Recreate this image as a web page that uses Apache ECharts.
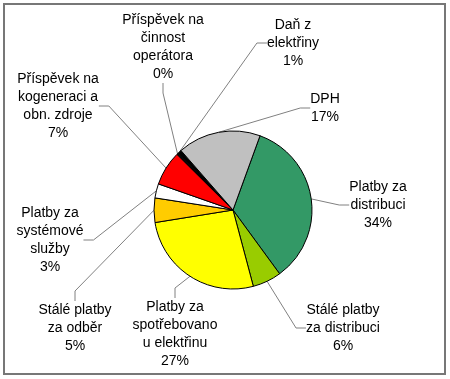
<!DOCTYPE html>
<html><head><meta charset="utf-8">
<script src="https://cdn.jsdelivr.net/npm/echarts@6/dist/echarts.min.js"></script>
<style>html,body{margin:0;padding:0;background:#fff}#c{width:450px;height:379px}</style>
</head><body><div id="c"></div>
<script>
const categories = [
  'Platby za\ndistribuci',
  'Stálé platby\nza distribuci',
  'Platby za\nspotřebovano\nu elektřinu',
  'Stálé platby\nza odběr',
  'Platby za\nsystémové\nslužby',
  'Příspěvek na\nkogeneraci a\nobn. zdroje',
  'Příspěvek na\nčinnost\noperátora',
  'Daň z\nelektřiny',
  'DPH'
];
const values = [34.4, 5.9, 26.6, 5.0, 2.9, 7.1, 0.3, 0.8, 17.0];
const colors = ['#339966', '#99CC00', '#FFFF00', '#FFCC00', '#FFFFFF', '#FF0000', '#000000', '#000000', '#C0C0C0'];
// label block centres (px)
const labelPos = [[378,205],[343,328],[175,334],[75,328],[50,240],[58,106],[163,47],[293,43],[325,108]];

const chart = echarts.init(document.getElementById('c'), null, {renderer:'canvas'});
chart.setOption({
  animation: false,
  graphic: [{type:'rect', shape:{x:4, y:4, width:441, height:370}, style:{fill:'none', stroke:'#777', lineWidth:2}, z:-1}],
  series: [{
    type: 'pie',
    center: [233, 210],
    radius: 79,
    startAngle: 70,
    clockwise: true,
    percentPrecision: 0,
    avoidLabelOverlap: false,
    data: categories.map((n,i)=>({name:n, value:values[i], itemStyle:{color:colors[i]}})),
    itemStyle: {borderColor:'#000', borderWidth:1},
    label: {
      show: true,
      formatter: p => p.name + '\n' + Math.round(p.percent) + '%',
      fontFamily: 'Liberation Sans, Arial, sans-serif',
      fontSize: 14,
      lineHeight: 18,
      color: '#000',
      align: 'center'
    },
    labelLine: {show:true, length:10, length2:10, lineStyle:{color:'#808080', width:1}},
    labelLayout: p => ({x: labelPos[p.dataIndex][0], y: labelPos[p.dataIndex][1], align:'center', verticalAlign:'middle'}),
    emphasis: {disabled:true}
  }]
});
</script></body></html>
